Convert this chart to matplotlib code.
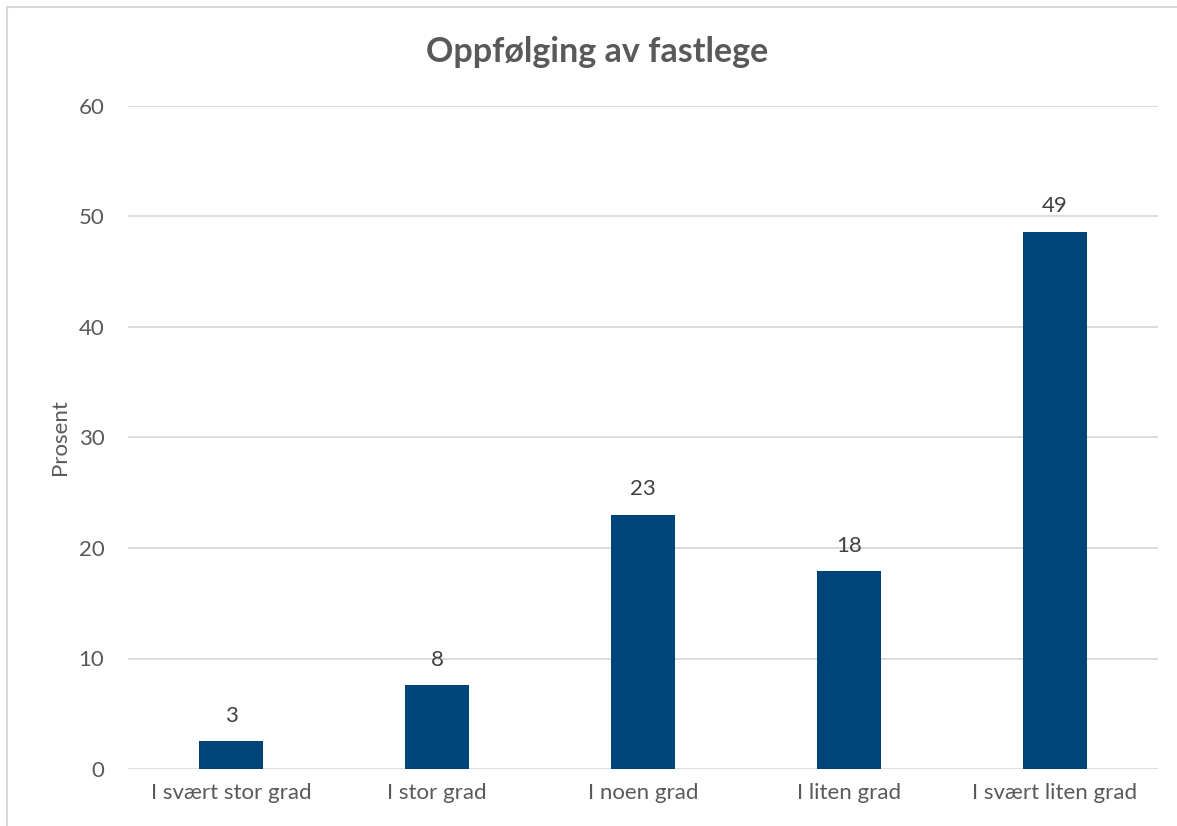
import matplotlib
matplotlib.use("Agg")
import matplotlib.pyplot as plt
from matplotlib.patches import Rectangle

categories = ["I svært stor grad", "I stor grad", "I noen grad", "I liten grad", "I svært liten grad"]
values = [2.5, 7.6, 23.0, 17.9, 48.6]
labels = ["3", "8", "23", "18", "49"]
yticks = [0, 10, 20, 30, 40, 50, 60]

plt.rcParams['font.family'] = ['Lato', 'DejaVu Sans']
txt = '#595959'
W, H = 1177, 826
fig = plt.figure(figsize=(W/100, H/100), dpi=100)
fig.patches.append(Rectangle((7/W, -0.1), (1190-7)/W, (H-7)/H + 0.1, transform=fig.transFigure,
                             fill=False, edgecolor='#d9d9d9', linewidth=1.5))
ax = fig.add_axes([128/W, 1-769/H, (1158-128)/W, (769-106)/H])
x = list(range(len(categories)))
ax.bar(x, values, width=0.31, color='#00457a', zorder=3)
for xi, v, l in zip(x, values, labels):
    ax.text(xi, v + 1.4, l, ha='center', va='bottom', fontsize=16, color='#404040')
ax.set_xlim(-0.5, len(categories) - 0.5)
ax.set_ylim(0, 60)
ax.set_yticks(yticks)
ax.set_xticks(x)
ax.set_xticklabels(categories)
ax.grid(axis='y', color='#d9d9d9', linewidth=1.3, zorder=0)
for s in ax.spines.values():
    s.set_visible(False)
ax.tick_params(axis='both', length=0, labelsize=16, colors=txt)
ax.tick_params(axis='y', pad=17)
ax.tick_params(axis='x', pad=10)
ax.set_ylabel('Prosent', fontsize=16, color=txt)
ax.yaxis.set_label_coords((70 - 128) / (1158 - 128), 0.5)
fig.text(597/W, 1-52/H, 'Oppfølging av fastlege', ha='center', va='center',
         fontsize=24.5, fontweight='bold', color=txt)
fig.savefig('out.png', dpi=100)
